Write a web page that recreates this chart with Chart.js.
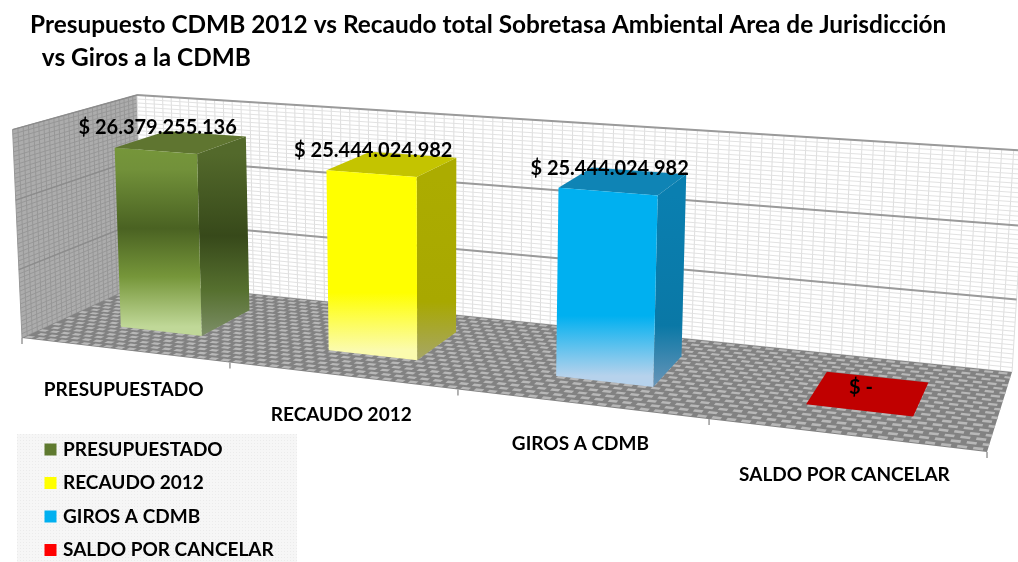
<!DOCTYPE html>
<html>
<head>
<meta charset="utf-8">
<title>Presupuesto CDMB 2012</title>
<script src="https://cdn.jsdelivr.net/npm/chart.js@4"></script>
<style>
  html, body { margin: 0; padding: 0; background: #fff; overflow: hidden; }
  canvas { display: block; }
</style>
</head>
<body>
<canvas id="chart" width="1018" height="562"></canvas>
<script>
// Data
const titleLines = [
    'Presupuesto CDMB 2012 vs Recaudo total Sobretasa Ambiental Area de Jurisdicción',
    '  vs Giros a la CDMB'
];
const categories = ['PRESUPUESTADO', 'RECAUDO 2012', 'GIROS A CDMB', 'SALDO POR CANCELAR'];
const values = [26379255136, 25444024982, 25444024982, 0];
const axisMax = 30000000000;
const axisStep = 10000000000;

// Colours per bar
const legendColors = ['#5f7a2f', '#ffff00', '#00b0f0', '#ff0000'];
const frontStops = [
    [[0, '#76963a'], [0.12, '#72913a'], [0.45, '#4a6222'], [0.72, '#76963a'], [1, '#c0d898']],
    [[0, '#ffff00'], [0.68, '#ffff00'], [1, '#fbfbae']],
    [[0, '#00b0f0'], [0.68, '#00b0f0'], [1, '#b6d2ec']],
    [[0, '#c00000'], [1, '#c00000']]
];
const sideStops = [
    [[0, '#53692b'], [0.45, '#37491a'], [0.75, '#56702f'], [1, '#7d8f68']],
    [[0, '#acac00'], [0.68, '#a8a800'], [1, '#a6a668']],
    [[0, '#0a7fb0'], [0.68, '#0a78a6'], [1, '#6a95b8']],
    [[0, '#c00000'], [1, '#c00000']]
];
const topColors = ['#5f7530', '#c4c400', '#0f84b5', '#c00000'];

// Perspective of the box: u along the categories, d into the page, h upwards (all 0..1)
function project(u, d, h) {
    const w = 1 - 0.176 * u + 0.1155 * d - 0.022 * h;
    return {
        x: (791.3 * u + 137.5 * d + 22 - 9.7 * h) / w,
        y: (34.4 * u - 22.9 * d + 338 - 211.2 * h) / w
    };
}

function fillPoly(ctx, pts, style) {
    ctx.beginPath();
    pts.forEach((p, i) => i ? ctx.lineTo(p.x, p.y) : ctx.moveTo(p.x, p.y));
    ctx.closePath();
    ctx.fillStyle = style;
    ctx.fill();
}

function strokeLine(ctx, a, b, color, width) {
    ctx.beginPath();
    ctx.moveTo(a.x, a.y);
    ctx.lineTo(b.x, b.y);
    ctx.strokeStyle = color;
    ctx.lineWidth = width;
    ctx.stroke();
}

function gradientFor(ctx, pts, stops) {
    const ys = pts.map(p => p.y);
    const g = ctx.createLinearGradient(0, Math.min(...ys), 0, Math.max(...ys));
    stops.forEach(s => g.addColorStop(s[0], s[1]));
    return g;
}

// Walls, floor and gridlines
function drawBox(chart) {
    const ctx = chart.ctx;
    const yScale = chart.scales.y;
    const area = chart.chartArea;
    const heightOf = v => (area.bottom - yScale.getPixelForValue(v)) / (area.bottom - area.top);

    // left wall
    fillPoly(ctx, [project(0, 0, 0), project(0, 1, 0), project(0, 1, 1), project(0, 0, 1)], '#acacac');
    for (let i = 0; i <= 26; i++) {
        strokeLine(ctx, project(0, i / 26, 0), project(0, i / 26, 1), '#979797', 1);
    }
    for (let i = 0; i <= 48; i++) {
        strokeLine(ctx, project(0, 0, i / 48), project(0, 1, i / 48), '#979797', 1);
    }

    // back wall
    fillPoly(ctx, [project(0, 1, 0), project(1, 1, 0), project(1, 1, 1), project(0, 1, 1)], '#ffffff');
    for (let i = 0; i <= 88; i++) {
        strokeLine(ctx, project(i / 88, 1, 0), project(i / 88, 1, 1), '#dedede', 1);
    }
    for (let i = 0; i <= 48; i++) {
        strokeLine(ctx, project(0, 1, i / 48), project(1, 1, i / 48), '#e2e2e2', 1);
    }

    // major gridlines from the value axis
    yScale.ticks.forEach(t => {
        const h = heightOf(t.value);
        if (h <= 0) return;
        strokeLine(ctx, project(0, 0, h), project(0, 1, h), '#8c8c8c', 1.5);
        strokeLine(ctx, project(0, 1, h), project(1, 1, h), '#9a9a9a', 2);
    });

    // floor with its woven pattern
    fillPoly(ctx, [project(0, 0, 0), project(1, 0, 0), project(1, 1, 0), project(0, 1, 0)], '#828282');
    const rows = 19, cols = 72;
    for (let r = 0; r < rows; r++) {
        for (let c = 0; c < cols; c++) {
            const u0 = (c + (r % 2 ? 0.5 : 0) + 0.1) / cols;
            const u1 = Math.min(u0 + 0.62 / cols, 1);
            if (u0 >= 1) continue;
            const d0 = (r + 0.2) / rows, d1 = (r + 0.75) / rows;
            fillPoly(ctx, [project(u0, d0, 0), project(u1, d0, 0), project(u1, d1, 0), project(u0, d1, 0)], '#b8b8b8');
        }
    }

    // tick marks under the front edge
    for (let i = 0; i <= categories.length; i++) {
        const p = project(i / categories.length, 0, 0);
        strokeLine(ctx, p, { x: p.x, y: p.y + 6 }, '#9a9a9a', 1.5);
    }
}

// Bars: the library lays them out, we project each one into the box
function drawBars(chart) {
    const ctx = chart.ctx;
    const area = chart.chartArea;
    const spanX = area.right - area.left;
    const spanY = area.bottom - area.top;
    const bars = chart.getDatasetMeta(0).data;
    const dFront = 0.3, dBack = 0.74;

    bars.forEach((bar, i) => {
        const u0 = (bar.x - bar.width / 2 - area.left) / spanX + 0.001;
        const u1 = (bar.x + bar.width / 2 - area.left) / spanX + 0.001;
        const h = (area.bottom - bar.y) / spanY;

        const fl = project(u0, dFront, 0), fr = project(u1, dFront, 0);
        const tl = project(u0, dFront, h), tr = project(u1, dFront, h);
        const br = project(u1, dBack, 0), tb = project(u1, dBack, h);
        const tbl = project(u0, dBack, h), bl = project(u0, dBack, 0);

        if (h > 0) {
            fillPoly(ctx, [fr, br, tb, tr], gradientFor(ctx, [tr, fr], sideStops[i]));
            fillPoly(ctx, [tl, tr, tb, tbl], topColors[i]);
            fillPoly(ctx, [fl, fr, tr, tl], gradientFor(ctx, [tl, fl], frontStops[i]));
        } else {
            // empty bar: only its base shows on the floor
            fillPoly(ctx, [fl, fr, br, bl], topColors[i]);
        }
    });

    // value labels above the front face
    ctx.font = 'bold 20px Lato';
    ctx.fillStyle = '#000';
    ctx.textAlign = 'center';
    ctx.textBaseline = 'middle';
    bars.forEach((bar, i) => {
        const u = (bar.x - area.left) / spanX;
        const p = project(u, dFront, (area.bottom - bar.y) / spanY);
        ctx.fillText(formatValue(values[i]), p.x + 3, p.y - 23);
    });

    // category labels below the front edge
    ctx.font = 'bold 19px Lato';
    const xScale = chart.scales.x;
    categories.forEach((name, i) => {
        const p = project((xScale.getPixelForValue(i) - area.left) / spanX, 0, 0);
        ctx.fillText(name, p.x, p.y + 39.5);
    });
}

function formatValue(v) {
    if (!v) return '$ -';
    return '$ ' + String(v).replace(/\B(?=(\d{3})+$)/g, '.');
}

// Dotted panel behind the legend
function drawLegendPanel(ctx) {
    ctx.fillStyle = '#f6f6f6';
    ctx.fillRect(17, 434, 280, 128);
    ctx.fillStyle = '#ebebeb';
    for (let x = 17; x < 297; x += 3) {
        for (let y = 434; y < 562; y += 3) {
            ctx.fillRect(x, y, 1, 1);
        }
    }
}

const boxPlugin = {
    id: 'box3d',
    afterLayout(chart) {
        // legend sits in its panel, not against the chart edge
        chart.legend.left = 33;
        chart.legend.bottom += 12;
    },
    beforeDraw(chart) {
        drawLegendPanel(chart.ctx);
    },
    beforeDatasetsDraw(chart) {
        drawBox(chart);
    },
    afterDatasetsDraw(chart) {
        drawBars(chart);
    }
};

new Chart(document.getElementById('chart').getContext('2d'), {
    type: 'bar',
    data: {
        labels: categories,
        datasets: [{
            data: values,
            backgroundColor: 'rgba(0,0,0,0)',
            barPercentage: 0.4,
            categoryPercentage: 1
        }]
    },
    options: {
        responsive: false,
        animation: false,
        layout: { padding: { left: 30, top: 8, bottom: 0 } },
        plugins: {
            tooltip: { enabled: false },
            title: {
                display: true,
                text: titleLines,
                align: 'start',
                color: '#000',
                font: { family: 'Lato', weight: 'bold', size: 24.4, lineHeight: 1.37 },
                padding: { top: 0, bottom: 0 }
            },
            legend: {
                display: true,
                position: 'left',
                align: 'end',
                onClick: null,
                labels: {
                    color: '#000',
                    font: { family: 'Lato', weight: 'bold', size: 19 },
                    usePointStyle: true,
                    pointStyle: 'rect',
                    boxWidth: 6,
                    boxHeight: 12,
                    padding: 14.5,
                    generateLabels: () => categories.map((name, i) => ({
                        text: name,
                        fontColor: '#000',
                        fillStyle: legendColors[i],
                        strokeStyle: legendColors[i],
                        lineWidth: 0,
                        pointStyle: 'rect',
                        index: i
                    }))
                }
            }
        },
        scales: {
            x: { display: false, offset: true },
            y: { display: false, min: 0, max: axisMax, ticks: { stepSize: axisStep } }
        }
    },
    plugins: [boxPlugin]
});
</script>
</body>
</html>
